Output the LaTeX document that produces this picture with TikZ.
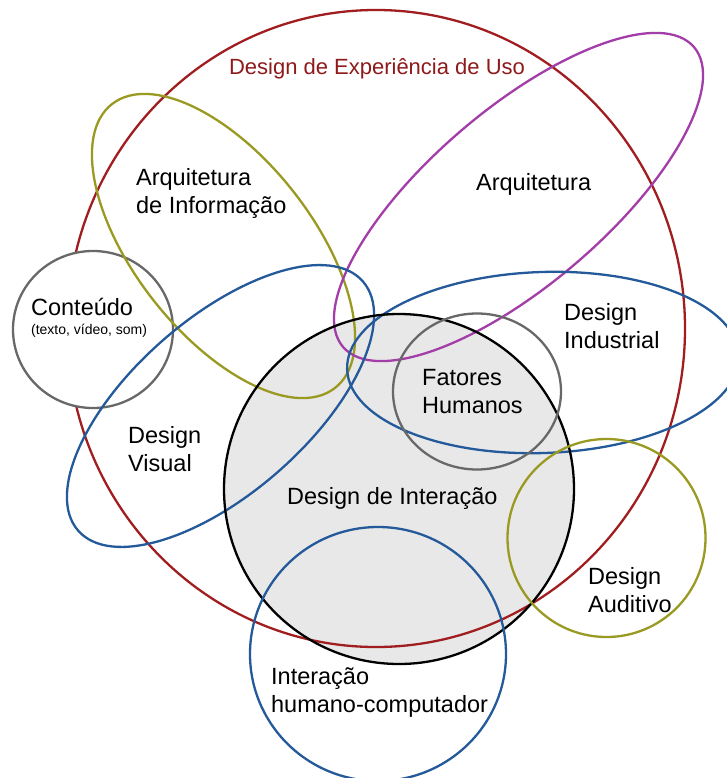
\documentclass[tikz,border=0pt]{standalone}
\usepackage{fontspec}
\setmainfont{Liberation Sans}
\definecolor{ured}{HTML}{A01E20}
\definecolor{utitle}{HTML}{8E1A1C}
\definecolor{uolive}{HTML}{9A9A22}
\definecolor{upurple}{HTML}{A33DA8}
\definecolor{ublue}{HTML}{245A9A}
\definecolor{ugray}{HTML}{686868}
\definecolor{ufill}{HTML}{E8E8E8}
\begin{document}
\begin{tikzpicture}[x=1pt,y=-1pt,line width=2.3pt,
  lbl/.style={anchor=base west,align=left,inner sep=0pt,font=\fontsize{23.5}{28}\selectfont},
  small/.style={anchor=base west,inner sep=0pt,font=\fontsize{14}{16}\selectfont}]
\useasboundingbox (0,0) rectangle (726,778);
\fill[white] (0,0) rectangle (726,778);
% filled Design de Interacao
\fill[ufill] (399,489) circle [radius=175];
% Design de Experiencia de Uso
\draw[ured] (376,328.5) ellipse [x radius=309, y radius=318.5];
% Conteudo (white filled, over red)
\draw[ugray,fill=white] (93,329.5) ellipse [x radius=80, y radius=78.5];
% Arquitetura de Informacao
\begin{scope}[shift={(223.5,246)},rotate=-51.8]
  \draw[uolive] (0,0) ellipse [x radius=180.5, y radius=88.6];
\end{scope}
% Arquitetura
\begin{scope}[shift={(518.5,197)},rotate=40.5]
  \draw[upurple] (0,0) ellipse [x radius=230.8, y radius=87.7];
\end{scope}
% Design Visual
\begin{scope}[shift={(220.5,406)},rotate=41.2]
  \draw[ublue] (0,0) ellipse [x radius=189.2, y radius=87.4];
\end{scope}
% Design Industrial
\begin{scope}[shift={(543,362.5)},rotate=2]
  \draw[ublue] (0,0) ellipse [x radius=196, y radius=90.5];
\end{scope}
% Design de Interacao outline
\draw[black] (399,489) circle [radius=175];
% Fatores Humanos
\draw[ugray] (477,391.5) ellipse [x radius=84, y radius=78];
% Design Auditivo
\draw[uolive] (606.5,538) circle [radius=99];
% Interacao humano-computador
\draw[ublue] (378,654) ellipse [x radius=128, y radius=127];

% labels (base = baseline of the last line)
\node[anchor=base,inner sep=0pt,text=utitle,font=\fontsize{22}{26}\selectfont] (tUX) at (377,75) {Design de Experiência de Uso};
\node[lbl] (tAI) at (135,213) {Arquitetura\\de Informação};
\node[lbl] (tAR) at (475,190) {Arquitetura};
\node[lbl] (tCO) at (30,315) {Conteúdo};
\node[small] (tCOs) at (30,334) {(texto, vídeo, som)};
\node[lbl] (tDI) at (563,348) {Design\\Industrial};
\node[lbl] (tFH) at (421,413) {Fatores\\Humanos};
\node[lbl] (tDV) at (127,471) {Design\\Visual};
\node[lbl] (tDX) at (286,504) {Design de Interação};
\node[lbl] (tDA) at (587,612) {Design\\Auditivo};
\node[lbl] (tHC) at (270,712) {Interação\\humano-computador};
\end{tikzpicture}
\end{document}
